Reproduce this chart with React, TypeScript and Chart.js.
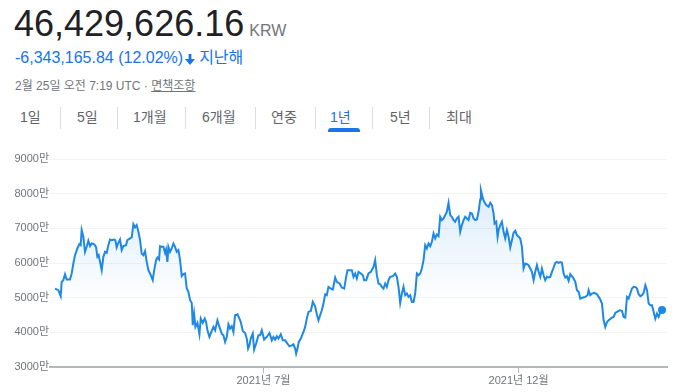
import React, { useEffect, useRef } from "react";
import { Chart, registerables } from "chart.js";

Chart.register(...registerables);

// days since 2021-02-25
const days = [
  1, 3, 4.4, 5, 6, 7, 8, 10, 11, 12,
  13, 14.4, 15.6, 16.4, 17, 18, 19, 20, 21, 22,
  23, 24.4, 25.6, 26.4, 27.2, 28, 29, 30, 31, 32,
  33, 34, 35, 36.4, 37.2, 38, 39, 40, 41, 42,
  43.6, 44.4, 46, 47, 48, 49, 50, 51, 52, 53,
  54, 55, 56, 57, 58, 59.6, 60.4, 61.6, 62.4, 63.4,
  64, 65, 66, 67, 67.6, 68.4, 69, 70, 71, 72,
  73, 74, 75, 76, 77, 78, 79, 80, 81, 82,
  83, 83.6, 84.4, 85.2, 86.4, 87.6, 88.4, 89.6, 90.8, 91.6,
  92.4, 93.6, 95, 96, 97, 98.4, 99.6, 101, 102, 103,
  104, 105, 106, 107, 108, 109, 110.4, 111.6, 112.4, 113.6,
  115, 116, 116.8, 117.6, 118.4, 119.6, 120.4, 121.6, 123, 124,
  125, 126.4, 128, 129.6, 131, 132, 133, 134, 135, 136.4,
  137.6, 139, 140.4, 141.6, 143, 144, 145, 145.6, 146.4, 147.2,
  148.4, 150, 151, 152, 153, 154.4, 155.6, 157, 158, 159,
  160, 161, 162, 163, 164, 165, 166.4, 167.6, 169, 170,
  171.6, 173, 174.4, 175.6, 176.4, 178, 179, 180, 181, 182,
  183,
  184.4, 185.6, 186.4, 187.6, 189, 190.4, 192, 193, 194, 195,
  196, 197, 198, 199, 200, 201, 202, 203.6, 205, 206,
  207, 208, 209, 210, 211, 212, 213, 214, 215, 216,
  217, 218, 219, 220, 221, 222, 223, 224, 225, 226,
  227, 228, 229, 230, 231, 232, 233, 234, 235, 236,
  237, 238, 239, 240, 241, 242, 243, 244, 245, 246,
  247, 248, 249, 250, 251, 252, 253, 254, 255, 256,
  256.4, 257.6, 258.4, 259.6, 261, 262, 263, 264, 264.6, 265.6,
  266.4, 267, 268, 269, 270, 271, 272, 273, 274, 275,
  276, 277, 278, 279, 280, 281, 282, 283, 284, 285,
  286, 287, 288, 289, 290, 291, 292, 293, 294, 295,
  296, 297, 298, 299, 300, 301, 302, 303, 304, 305,
  306, 307, 308, 309, 310, 311, 312, 313, 314, 315,
  316, 317.6, 319, 320.4, 321, 322, 323, 324.4, 326, 327,
  328, 329, 330, 331, 332, 333, 335, 336, 337, 338,
  339.6, 341, 342, 343, 344, 345, 346, 347, 348, 349,
  350, 351, 352, 353, 354, 355, 356, 357, 358, 359,
  360, 361, 362, 363, 364, 365,
];

// price in 만 KRW
const prices = [
  5263, 5215, 5042, 5456, 5504, 5677, 5523, 5523, 5697, 5986,
  6226, 6419, 6544, 6515, 6949, 6756, 6323, 6467, 6640, 6486,
  6563, 6544, 6467, 6178, 6226, 6034, 5793, 6178, 6323, 6294,
  6515, 6679, 6660, 6679, 6660, 6448, 6583, 6679, 6371, 6486,
  6515, 6660, 6708, 6737, 7122, 7026, 7093, 6900, 6660, 6274,
  6226, 6342, 6034, 5793, 5697, 5504, 5774, 6082, 6159, 6101,
  6486, 6467, 6467, 6294, 6390, 6034, 6467, 6323, 6419, 6563,
  6467, 6323, 6371, 6082, 5620, 5677, 5697, 5263, 5167, 4926,
  4849, 4204, 4541, 4156, 4271, 3944, 4396, 4271, 4396, 4300,
  4059, 3867, 4040, 4156, 4059, 4348, 4156, 3963, 3915, 3722,
  3867, 4233, 4107, 4175, 4011, 4493, 4522, 4396, 4300, 4040,
  3982, 3819, 3530, 3626, 3819, 3963, 3501, 3674, 3915, 3915,
  4059, 3790, 3867, 3982, 3770, 3867, 3790, 3886, 3819, 3944,
  3770, 3770, 3674, 3597, 3626, 3655, 3530, 3385, 3530, 3722,
  3819, 4011, 4156, 4396, 4589, 4618, 4878, 4753, 4522, 4348,
  4493, 4637, 4830, 5099, 5071, 5311, 5263, 5234, 5581, 5456,
  5408, 5292, 5263, 5600, 5793, 5793, 5793, 5600, 5697, 5552,
  5745,
  5697, 5648, 5504, 5504, 5697, 5745, 5889, 6082, 5648, 5408,
  5388, 5311, 5263, 5408, 5311, 5504, 5600, 5620, 5697, 5600,
  5311, 4849, 5119, 5311, 5071, 5119, 5022, 5071, 4878, 4878,
  5119, 5697, 5648, 5697, 5841, 6082, 6515, 6419, 6563, 6486,
  6612, 6852, 6708, 6823, 6775, 7334, 7238, 7286, 7382, 7478,
  7738, 7382, 7334, 7238, 7189, 7286, 7334, 6900, 7093, 7238,
  7334, 7286, 7238, 7449, 7430, 7286, 7238, 7257, 7478, 7835,
  8104, 7864, 7767, 7671, 7623, 7738, 7671, 7430, 7141, 7189,
  6756, 6949, 7093, 7189, 6900, 6708, 6949, 6756, 6448, 6660,
  6872, 6929, 6804, 6756, 6708, 6467, 5841, 5986, 5966, 5937,
  5841, 5745, 5504, 5745, 5937, 5745, 5600, 5841, 5648, 5504,
  5600, 5581, 5600, 5745, 5870, 6005, 6034, 6005, 6024, 6005,
  5697, 5581, 5620, 5485, 5677, 5620, 5552, 5456, 5215, 5167,
  4974, 5003, 5022, 5071, 5215, 5071, 5119, 5138, 5099, 5022,
  4945, 4830, 4348, 4156, 4300, 4348, 4425, 4445, 4560, 4589,
  4637, 4618, 4445, 4425, 5022, 4974, 5119, 5263, 5311, 5311,
  5263, 5099, 5042, 5071, 5138, 5360, 5215, 4830, 4782, 4782,
  4589, 4396, 4541, 4445, 4589, 4643,
];

const xTickDays = [126, 279];
const xTickLabels = ["2021년 7월", "2021년 12월"];
const yMin = 3000;
const yMax = 9000;
const yStep = 1000;

const priceText = "46,429,626.16";
const currency = "KRW";
const changeText = "-6,343,165.84 (12.02%)";
const periodText = "지난해";
const dateText = "2월 25일 오전 7:19 UTC · ";
const disclaimerText = "면책조항";
const tabs = ["1일", "5일", "1개월", "6개월", "연중", "1년", "5년", "최대"];
const selectedTab = "1년";

const FONT = 'Arial, "Liberation Sans", "Noto Sans CJK KR", sans-serif';
const tabLeft = [20, 77, 133, 202, 271, 330, 390, 446];
const sepLeft = [60, 117, 185, 255, 315, 372, 429];

export default function App() {
  const ref = useRef<HTMLCanvasElement | null>(null);

  useEffect(() => {
    if (!ref.current) return;
    const points = days.map((d, i) => ({ x: d, y: prices[i] }));
    const last = points.length - 1;
    const chart = new Chart(ref.current, {
      type: "line",
      data: {
        datasets: [
          {
            data: points,
            borderColor: "#1e88e5",
            borderWidth: 2,
            tension: 0,
            fill: "start",
            backgroundColor: (c: any) => {
              const ch = c.chart;
              const area = ch.chartArea;
              if (!area) return "rgba(30,136,229,0.08)";
              const g = ch.ctx.createLinearGradient(0, area.top + 30, 0, area.bottom - 65);
              g.addColorStop(0, "rgba(30,136,229,0.16)");
              g.addColorStop(1, "rgba(30,136,229,0)");
              return g;
            },
            pointRadius: (c: any) => (c.dataIndex === last ? 4 : 0),
            pointBackgroundColor: "#1e88e5",
            pointBorderWidth: 0,
            pointHoverRadius: 0,
          },
        ],
      },
      options: {
        animation: false,
        responsive: false,
        devicePixelRatio: 1,
        events: [],
        layout: { padding: { top: 19, right: 8, left: 0, bottom: 0 } },
        plugins: { legend: { display: false }, tooltip: { enabled: false } },
        scales: {
          x: {
            type: "linear",
            min: -2,
            max: 368,
            afterBuildTicks: (s: any) => {
              s.ticks = xTickDays.map((v) => ({ value: v }));
            },
            afterFit: (s: any) => {
              s.height = 25;
            },
            ticks: {
              autoSkip: false,
              maxRotation: 0,
              color: "#70757a",
              padding: 1,
              font: { size: 11, family: FONT },
              callback: (v: any) => {
                const i = xTickDays.indexOf(Number(v));
                return i >= 0 ? xTickLabels[i] : "";
              },
            },
            grid: {
              drawOnChartArea: false,
              drawTicks: true,
              tickLength: 6,
              color: "#b4b7bb",
              lineWidth: 1,
            },
            border: { display: true, color: "#b4b7bb", width: 2 },
          },
          y: {
            min: yMin,
            max: yMax,
            afterFit: (s: any) => {
              s.width = 50;
            },
            ticks: {
              stepSize: yStep,
              color: "#70757a",
              padding: 1,
              font: { size: 11, family: FONT },
              callback: (v: any) => `${v}만`,
            },
            grid: { drawTicks: false, color: "#f1f3f4", lineWidth: 1 },
            border: { display: false },
          },
        },
      },
    } as any);
    return () => chart.destroy();
  }, []);

  return (
    <div
      style={{
        position: "absolute",
        left: 0,
        top: 0,
        width: 675,
        height: 392,
        background: "#fff",
        fontFamily: FONT,
        overflow: "hidden",
      }}
    >
      <div style={{ position: "absolute", left: 14, top: 6, whiteSpace: "nowrap", lineHeight: "36px" }}>
        <span style={{ fontSize: 36, color: "#202124" }}>{priceText}</span>
        <span style={{ fontSize: 16, color: "#70757a", marginLeft: 5 }}>{currency}</span>
      </div>
      <div
        style={{
          position: "absolute",
          left: 15,
          top: 50,
          whiteSpace: "nowrap",
          fontSize: 16,
          lineHeight: "16px",
          color: "#1a73e8",
          display: "flex",
          alignItems: "center",
        }}
      >
        <span>{changeText}</span>
        <svg width="10" height="11" viewBox="0 0 10 11" style={{ marginLeft: 2, marginTop: 2 }}>
          <rect x="3.6" y="0" width="2.8" height="6" fill="#1a73e8" />
          <path d="M0 5 L10 5 L5 11 Z" fill="#1a73e8" />
        </svg>
        <span style={{ marginLeft: 4 }}>{periodText}</span>
      </div>
      <div
        style={{
          position: "absolute",
          left: 15,
          top: 79,
          whiteSpace: "nowrap",
          fontSize: 12,
          lineHeight: "14px",
          color: "#70757a",
        }}
      >
        <span>{dateText}</span>
        <span style={{ textDecoration: "underline" }}>{disclaimerText}</span>
      </div>
      {tabs.map((t, i) => (
        <div
          key={t}
          style={{
            position: "absolute",
            left: tabLeft[i],
            top: 109,
            fontSize: 14,
            lineHeight: "16px",
            whiteSpace: "nowrap",
            color: t === selectedTab ? "#1a73e8" : "#5f6368",
          }}
        >
          {t}
        </div>
      ))}
      {sepLeft.map((x) => (
        <div
          key={x}
          style={{ position: "absolute", left: x, top: 107, width: 1, height: 22, background: "#dadce0" }}
        />
      ))}
      <div
        style={{
          position: "absolute",
          left: 328,
          top: 128,
          width: 32,
          height: 4,
          background: "#1a73e8",
          borderRadius: "3px 3px 0 0",
        }}
      />
      <canvas
        ref={ref}
        width={675}
        height={252}
        style={{ position: "absolute", left: 0, top: 140, width: 675, height: 252, display: "block" }}
      />
    </div>
  );
}
